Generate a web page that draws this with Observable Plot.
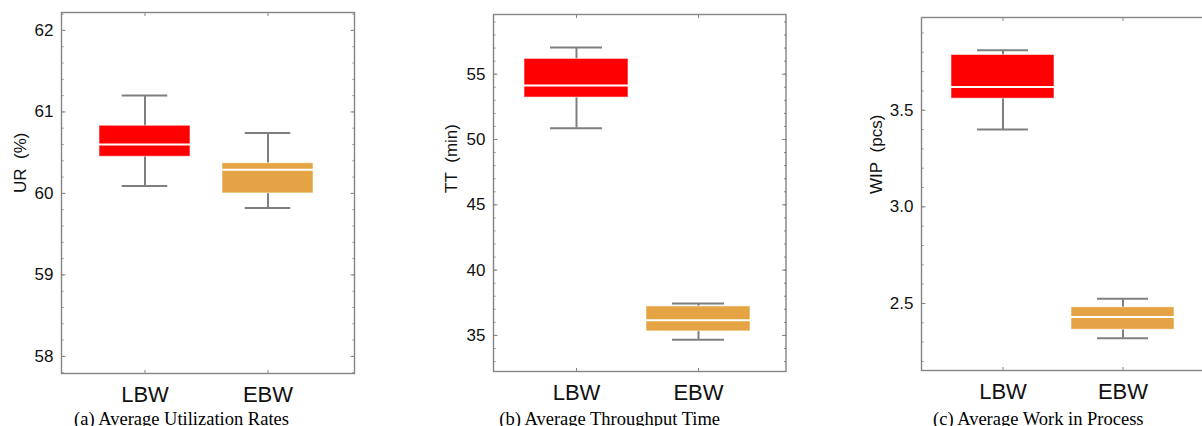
<!DOCTYPE html>
<html>
<head>
<meta charset="utf-8">
<script src="https://cdn.jsdelivr.net/npm/d3@7"></script>
<script src="https://cdn.jsdelivr.net/npm/@observablehq/plot@0.6"></script>
<style>
  html, body { margin: 0; padding: 0; background: #fff; }
  #root { position: relative; width: 1202px; height: 426px; overflow: hidden; background: #fff; }
  .panel { position: absolute; top: 0; }
  .caption { position: absolute; width: 400px; text-align: center; font-family: "Liberation Serif", "Times New Roman", serif; font-size: 18.5px; line-height: 18.5px; color: #000; white-space: nowrap; }
</style>
</head>
<body>
<div id="root"></div>
<script>
// ---------- data ----------
const categories = ["LBW", "EBW"];
const boxColors = ["#ff0000", "#e5a443"];

// (a) Average Utilization Rates, UR (%)
const urMin = [60.09, 59.82];
const urQ1  = [60.45, 60.00];
const urMed = [60.60, 60.29];
const urQ3  = [60.83, 60.37];
const urMax = [61.20, 60.74];
const urTicks = [58, 59, 60, 61, 62];

// (b) Average Throughput Time, TT (min)
const ttMin = [50.87, 34.67];
const ttQ1  = [53.21, 35.31];
const ttMed = [54.13, 36.17];
const ttQ3  = [56.17, 37.22];
const ttMax = [57.04, 37.45];
const ttTicks = [35, 40, 45, 50, 55];

// (c) Average Work in Process, WIP (pcs)
const wipMin = [3.40, 2.32];
const wipQ1  = [3.56, 2.364];
const wipMed = [3.62, 2.43];
const wipQ3  = [3.786, 2.48];
const wipMax = [3.81, 2.524];
const wipTicks = [2.5, 3.0, 3.5];

const captions = ["(a) Average Utilization Rates", "(b) Average Throughput Time", "(c) Average Work in Process"];
const yLabels = ["UR\u00a0 (%)", "TT\u00a0 (min)", "WIP\u00a0 (pcs)"];

function rows(mn, q1, md, q3, mx) {
  return categories.map((c, i) => ({cat: c, min: mn[i], q1: q1[i], med: md[i], q3: q3[i], max: mx[i]}));
}

const panels = [
  {data: rows(urMin, urQ1, urMed, urQ3, urMax), ticks: urTicks, minor: d3.range(57.8, 62.3, 0.2), fmt: d3.format("d"),
   yDomain: [57.79, 62.22], left: 0, width: 364, mL: 61, mR: 10, mT: 12, mB: 53,
   pi: 0.263, po: 0.322, align: 0.48, capInset: 22.7, labelDx: -40.5, label: yLabels[0], captionX: 181.5},
  {data: rows(ttMin, ttQ1, ttMed, ttQ3, ttMax), ticks: ttTicks, minor: d3.range(33, 60, 1), fmt: d3.format("d"),
   yDomain: [32.24, 59.57], left: 400, width: 400, mL: 93, mR: 14.5, mT: 14, mB: 55,
   pi: 0.1475, po: 0.272, align: 0.467, capInset: 26, labelDx: -41.8, label: yLabels[1], captionX: 609.7},
  {data: rows(wipMin, wipQ1, wipMed, wipQ3, wipMax), ticks: wipTicks, minor: d3.range(2.2, 3.95, 0.1), fmt: d3.format(".1f"),
   yDomain: [2.153, 3.98], left: 800, width: 421, mL: 121, mR: 10, mT: 17, mB: 56,
   pi: 0.14, po: 0.27, align: 0.45, capInset: 26, labelDx: -44.5, label: yLabels[2], captionX: 1038.3}
];

const root = document.getElementById("root");
const gray = "#858585";
const font = "'Liberation Sans', Arial, sans-serif";

panels.forEach((p, k) => {
  const chart = Plot.plot({
    width: p.width,
    height: 426,
    marginLeft: p.mL, marginRight: p.mR, marginTop: p.mT, marginBottom: p.mB,
    style: {fontFamily: font, background: "transparent", color: "#111"},
    x: {type: "band", domain: categories, paddingInner: p.pi, paddingOuter: p.po, align: p.align, label: null},
    y: {domain: p.yDomain, label: null},
    color: {domain: categories, range: boxColors},
    marks: [
      Plot.frame({stroke: gray, strokeWidth: 1.4}),
      // y axes: major ticks with labels (left), minor ticks, mirrored right
      Plot.axisY({anchor: "left", ticks: p.ticks, tickSize: -4.5, tickPadding: 12.5, tickFormat: p.fmt, fontSize: 17, stroke: gray, label: null}),
      Plot.axisY({anchor: "left", ticks: p.minor, tickSize: -2.5, tickFormat: () => "", stroke: gray, label: null}),
      Plot.axisY({anchor: "right", ticks: p.ticks, tickSize: -4.5, tickFormat: () => "", stroke: gray, label: null}),
      Plot.axisY({anchor: "right", ticks: p.minor, tickSize: -2.5, tickFormat: () => "", stroke: gray, label: null}),
      // x axes
      Plot.axisX({anchor: "bottom", tickSize: -3, tickPadding: 16, fontSize: 22, stroke: gray, label: null}),
      Plot.axisX({anchor: "top", tickSize: -3, tickFormat: () => "", stroke: gray, label: null}),
      // y label
      Plot.text([p.label], {frameAnchor: "left", text: d => d, rotate: -90, dx: p.labelDx, fontSize: 17, fill: "#111"}),
      // box plots
      Plot.ruleX(p.data, {x: "cat", y1: "min", y2: "max", stroke: "#7f7f7f", strokeWidth: 2}),
      Plot.tickY(p.data, {x: "cat", y: "min", stroke: "#7f7f7f", strokeWidth: 2, insetLeft: p.capInset, insetRight: p.capInset}),
      Plot.tickY(p.data, {x: "cat", y: "max", stroke: "#7f7f7f", strokeWidth: 2, insetLeft: p.capInset, insetRight: p.capInset}),
      Plot.barY(p.data, {x: "cat", y1: "q1", y2: "q3", fill: "cat", stroke: "white", strokeOpacity: 0.55, strokeWidth: 1}),
      Plot.tickY(p.data, {x: "cat", y: "med", stroke: "white", strokeWidth: 2})
    ]
  });
  chart.classList.add("panel");
  chart.style.left = p.left + "px";
  root.appendChild(chart);

  const cap = document.createElement("div");
  cap.className = "caption";
  cap.textContent = captions[k];
  cap.style.left = (p.captionX - 200) + "px";
  cap.style.top = "409.5px";
  root.appendChild(cap);
});
</script>
</body>
</html>
